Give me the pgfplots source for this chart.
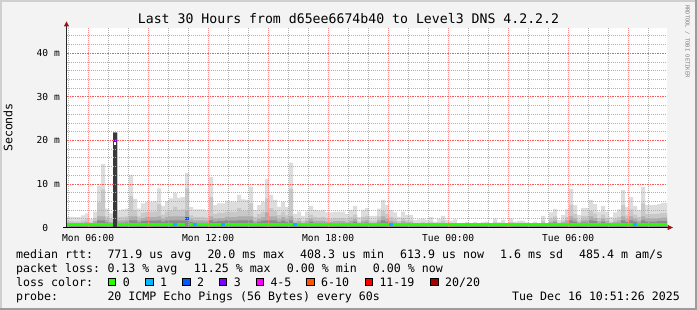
\documentclass[border=0pt]{standalone}
\usepackage{pgfplots}
\usepackage{pgfplotstable}
\pgfplotsset{compat=1.18}
\usepackage{fontspec}
\setmainfont{DejaVu Sans Mono}
\definecolor{canvas}{RGB}{243,243,243}
\definecolor{frameL}{RGB}{207,207,207}
\definecolor{frameD}{RGB}{156,156,156}
\definecolor{gridgray}{RGB}{175,175,175}
\definecolor{pinkred}{RGB}{255,140,140}
\definecolor{pinkredH}{RGB}{255,90,90}
\definecolor{arrowred}{RGB}{150,20,20}
\definecolor{smokeA}{RGB}{221,221,221}
\definecolor{smokeB}{RGB}{200,200,200}
\definecolor{smokeC}{RGB}{173,173,173}
\definecolor{smokeD}{RGB}{138,138,138}
\definecolor{colK}{RGB}{58,58,58}
\definecolor{lc0}{RGB}{38,255,0}
\definecolor{lc1}{RGB}{0,184,255}
\definecolor{lc2}{RGB}{0,89,255}
\definecolor{lc3}{RGB}{126,0,255}
\definecolor{lc4}{RGB}{255,0,255}
\definecolor{lc5}{RGB}{255,85,0}
\definecolor{lc6}{RGB}{255,0,0}
\definecolor{lc7}{RGB}{161,0,0}
\newcommand\legfont{\fontsize{11.6pt}{13pt}\selectfont}
\newcommand\ticksfont{\fontsize{9.6pt}{11pt}\selectfont}
\newcommand\titlefont{\fontsize{13.2pt}{15pt}\selectfont}
\pgfplotstableread{
h T M L D
4.84 2.5 1.5 1.0 0.9
5.04 2.5 1.5 1.0 0.9
5.24 2.4 1.4 1.0 0.9
5.44 2.4 1.4 1.0 0.9
5.64 2.8 1.7 1.1 0.9
5.84 3.3 2.0 1.3 0.9
6.04 2.0 1.2 1.0 0.9
6.24 3.7 2.2 1.5 1.0
6.44 9.6 5.8 2.6 1.7
6.64 14.6 8.8 2.6 1.7
6.84 4.4 2.6 1.8 1.2
7.04 3.3 2.0 1.3 0.9
7.24 21.8 21.8 21.8 21.8
7.44 4.0 2.4 1.6 1.1
7.64 4.2 2.5 1.7 1.1
7.84 4.4 2.6 1.8 1.2
8.04 12.1 7.3 2.6 1.7
8.24 6.6 4.0 2.6 1.7
8.44 4.4 2.6 1.8 1.2
8.64 5.6 3.4 2.2 1.5
8.84 6.0 3.6 2.4 1.6
9.04 6.0 3.6 2.4 1.6
9.24 6.1 3.7 2.4 1.6
9.44 9.0 5.4 2.6 1.7
9.64 5.0 3.0 2.0 1.4
9.84 6.1 3.7 2.4 1.6
10.04 6.7 4.0 2.6 1.7
10.24 8.0 4.8 2.6 1.7
10.44 6.9 4.1 2.6 1.7
10.64 7.0 4.2 2.6 1.7
10.84 12.6 9.0 4.0 1.7
11.04 4.7 2.8 1.9 1.3
11.24 4.2 2.5 1.7 1.1
11.44 4.2 2.5 1.7 1.1
11.64 4.2 2.5 1.7 1.1
11.84 3.9 2.3 1.6 1.1
12.04 11.6 7.0 2.6 1.7
12.24 5.2 3.1 2.1 1.4
12.44 5.6 3.4 2.2 1.5
12.64 5.6 3.4 2.2 1.5
12.84 6.2 3.7 2.5 1.7
13.04 6.0 3.6 2.4 1.6
13.24 6.0 3.6 2.4 1.6
13.44 7.5 4.5 2.6 1.7
13.64 6.5 3.9 2.6 1.7
13.84 6.4 3.8 2.6 1.7
14.04 9.4 5.6 2.6 1.7
14.24 4.1 2.5 1.6 1.1
14.44 5.2 3.1 2.1 1.4
14.64 6.0 3.6 2.4 1.6
14.84 11.2 6.7 3.5 1.7
15.04 7.5 4.5 2.6 1.7
15.24 6.4 3.8 2.6 1.7
15.44 4.8 2.9 1.9 1.3
15.64 6.0 3.6 2.4 1.6
15.84 4.7 2.8 1.9 1.3
16.04 14.9 8.9 2.6 1.7
16.24 3.1 1.9 1.2 0.9
16.44 3.7 2.2 1.5 1.0
16.64 2.7 1.6 1.1 0.9
16.84 3.7 2.2 1.5 1.0
17.04 5.0 3.0 2.0 1.4
17.24 4.1 2.5 1.6 1.1
17.44 3.9 2.3 1.6 1.1
17.64 4.1 2.5 1.6 1.1
17.84 3.5 2.1 1.4 0.9
18.04 3.5 2.1 1.4 0.9
18.24 3.7 2.2 1.5 1.0
18.44 3.7 2.2 1.5 1.0
18.64 3.7 2.2 1.5 1.0
18.84 3.1 1.9 1.2 0.9
19.04 4.1 2.5 1.6 1.1
19.24 5.0 3.0 2.0 1.4
19.44 2.4 1.4 1.0 0.9
19.64 4.1 2.5 1.6 1.1
19.84 4.5 2.7 1.8 1.2
20.04 2.7 1.6 1.1 0.9
20.24 2.7 1.6 1.1 0.9
20.44 4.4 2.6 1.8 1.2
20.64 6.4 3.8 2.6 1.7
20.84 5.2 3.1 2.1 1.4
21.04 4.1 2.5 1.6 1.1
21.24 3.5 2.1 1.4 0.9
21.44 2.5 1.5 1.0 0.9
21.64 3.7 2.2 1.5 1.0
21.84 2.9 1.7 1.2 0.9
22.04 2.9 1.7 1.2 0.9
22.24 1.8 1.1 1.0 0.9
22.44 1.9 1.1 1.0 0.9
22.64 2.1 1.3 1.0 0.9
22.84 1.8 1.1 1.0 0.9
23.04 2.4 1.4 1.0 0.9
23.24 1.4 1.1 1.0 0.9
23.44 2.0 1.2 1.0 0.9
23.64 2.7 1.6 1.1 0.9
23.84 1.8 1.1 1.0 0.9
24.04 1.6 1.1 1.0 0.9
24.24 1.9 1.1 1.0 0.9
24.44 1.0 1.0 1.0 0.9
24.64 0.9 0.9 0.9 0.9
24.84 1.3 1.1 1.0 0.9
25.04 1.0 1.0 1.0 0.9
25.24 1.3 1.1 1.0 0.9
25.44 1.0 1.0 1.0 0.9
25.64 1.2 1.1 1.0 0.9
25.84 1.4 1.1 1.0 0.9
26.04 1.0 1.0 1.0 0.9
26.24 2.1 1.3 1.0 0.9
26.44 1.2 1.1 1.0 0.9
26.64 1.8 1.1 1.0 0.9
26.84 1.0 1.0 1.0 0.9
27.04 2.1 1.3 1.0 0.9
27.24 1.4 1.1 1.0 0.9
27.44 1.6 1.1 1.0 0.9
27.64 1.6 1.1 1.0 0.9
27.84 1.2 1.1 1.0 0.9
28.04 0.9 0.9 0.9 0.9
28.24 1.4 1.1 1.0 0.9
28.44 1.0 1.0 1.0 0.9
28.64 2.7 1.6 1.1 0.9
28.84 1.0 1.0 1.0 0.9
29.04 3.5 2.1 1.4 0.9
29.24 4.3 2.6 1.7 1.2
29.44 1.8 1.1 1.0 0.9
29.64 2.9 1.7 1.2 0.9
29.84 4.2 2.5 1.7 1.1
30.04 8.9 5.3 2.6 1.7
30.24 5.2 3.1 2.1 1.4
30.44 2.9 1.7 1.2 0.9
30.64 4.5 2.7 1.8 1.2
30.84 4.5 2.7 1.8 1.2
31.04 6.4 3.8 2.6 1.7
31.24 5.4 3.2 2.2 1.5
31.44 3.7 2.2 1.5 1.0
31.64 5.0 3.0 2.0 1.4
31.84 3.7 2.2 1.5 1.0
32.04 2.4 1.4 1.0 0.9
32.24 3.5 2.1 1.4 0.9
32.44 4.2 2.5 1.7 1.1
32.64 8.6 5.2 2.6 1.7
32.84 4.7 2.8 1.9 1.3
33.04 7.0 4.2 2.6 1.7
33.24 5.0 3.0 2.0 1.4
33.44 4.1 2.5 1.6 1.1
33.64 9.3 5.6 2.6 1.7
33.84 5.2 3.1 2.1 1.4
34.04 5.2 3.1 2.1 1.4
34.24 5.2 3.1 2.1 1.4
34.44 5.4 3.2 2.2 1.5
34.64 5.7 3.4 2.3 1.5
34.84 5.7 3.4 2.3 1.5
34.94 5.7 3.4 2.3 1.5
}\smoke
\begin{document}
\begin{tikzpicture}[x=1pt,y=1pt]
% canvas and frame
\fill[canvas] (0,0) rectangle (697,310);
\fill[frameL] (0,308) rectangle (697,310);
\fill[frameL] (0,0) rectangle (2,310);
\fill[frameD] (695,0) rectangle (697,310);
\fill[frameD] (0,0) rectangle (697,2);
\begin{axis}[
  at={(67pt,82.3pt)}, anchor=south west,
  scale only axis, width=600pt, height=200pt,
  xmin=4.94, xmax=34.94, ymin=0, ymax=45.87,
  axis line style={draw=none},
  axis background/.style={fill=white},
  xtick={6,12,18,24,30},
  xticklabels={Mon 06:00,Mon 12:00,Mon 18:00,Tue 00:00,Tue 06:00},
  ytick={0,10,20,30,40},
  yticklabels={0\phantom{\ m},10 m,20 m,30 m,40 m},
  tick style={draw=none},
  xticklabel style={font=\ticksfont, anchor=base, yshift=-13.5pt, inner sep=0pt},
  yticklabel style={font=\ticksfont, anchor=east, inner sep=0pt, xshift=-7pt},
  unbounded coords=jump,
]
\addplot[const plot, fill=smokeA, draw=none] table[x=h,y=T]{\smoke} \closedcycle;
\addplot[const plot, fill=smokeB, draw=none] table[x=h,y=M]{\smoke} \closedcycle;
\addplot[const plot, fill=smokeC, draw=none] table[x=h,y=L]{\smoke} \closedcycle;
\addplot[const plot, fill=smokeD, draw=none] table[x=h,y=D]{\smoke} \closedcycle;
% fully delayed column
\addplot[const plot, fill=colK, draw=none] coordinates {(7.24,21.8) (7.44,21.8)} \closedcycle;
\addplot[fill=white, draw=none] coordinates {(7.28,19.0) (7.28,19.7) (7.40,19.7) (7.40,19.0)} -- cycle;
% vertical grid over the smoke, snapped to whole pixels
\pgfplotsinvokeforeach{5,7,8,10,11,13,14,16,17,19,20,22,23,25,26,28,29,31,32,34}{
  \draw[gridgray, dash pattern=on 1pt off 1pt, line width=1pt] (axis cs:#1.015,0.1605) -- (axis cs:#1.015,45.87);}
\pgfplotsinvokeforeach{6,9,12,15,18,21,24,27,30,33}{
  \draw[pinkred, dash pattern=on 1pt off 1pt, line width=1pt] (axis cs:#1.015,0.1605) -- (axis cs:#1.015,45.87);}
% median rtt, coloured by loss
\addplot[const plot, draw=lc0, line width=3pt] coordinates {(4.94,0.73) (7.24,0.73)};
\addplot[const plot, draw=lc0, line width=3pt] coordinates {(7.44,0.73) (10.84,0.73)};
\addplot[const plot, draw=lc0, line width=3pt] coordinates {(11.04,0.73) (34.94,0.73)};
\addplot[draw=lc1, line width=3pt] coordinates {(10.24,0.73) (10.44,0.73) (10.5,nan) (11.24,0.73) (11.44,0.73) (11.5,nan) (12.64,0.73) (12.84,0.73) (12.9,nan) (16.24,0.73) (16.44,0.73) (16.5,nan) (21.04,0.73) (21.24,0.73) (21.3,nan) (33.24,0.73) (33.44,0.73)};
\addplot[draw=lc2, line width=3pt] coordinates {(10.84,2.1) (11.04,2.1)};
\addplot[draw=lc3, line width=2pt] coordinates {(7.24,20.0) (7.44,20.0)};
\end{axis}
% horizontal grid (2 ms minor, 10 ms major)
\foreach \gy in {91.5,99.5,108.5,117.5,134.5,143.5,152.5,160.5,178.5,186.5,195.5,204.5,221.5,230.5,239.5,247.5,265.5,274.5}{
  \draw[gridgray, dash pattern=on 1pt off 1pt, line width=1pt] (67,\gy) -- (667,\gy);}
\foreach \gy in {125.5,169.5,213.5,256.5}{
  \draw[pinkredH, dash pattern=on 1.5pt off 1pt, line width=1.1pt] (67,\gy) -- (667,\gy);}
% axes lines and arrows
\draw[black!85, line width=1pt] (66.5,82.5) -- (66.5,284);
\draw[black, line width=1pt] (63,82.5) -- (668,82.5);
\fill[arrowred] (63.8,283.5) -- (69.2,283.5) -- (66.5,288.5) -- cycle;
\fill[arrowred] (667.5,79.8) -- (667.5,85.2) -- (673,82.5) -- cycle;
% title and labels
\node[anchor=base, inner sep=0pt, font=\titlefont] at (348.5,286) {Last 30 Hours from d65ee6674b40 to Level3 DNS 4.2.2.2};
\node[anchor=base, rotate=90, inner sep=0pt, font=\legfont] at (12.3,182.5) {Seconds};
\node[anchor=center, rotate=-90, inner sep=0pt, text=black!50, font=\fontsize{5.5pt}{6pt}\selectfont] at (687.5,268.5) {RRDTOOL / TOBI OETIKER};
% legend
\begin{scope}[every node/.style={anchor=base west, inner sep=0pt, font=\legfont}]
\node at (16,51.7) {median rtt:};
\node at (107.3,51.7) {771.9 us avg};
\node at (207.3,51.7) {20.0 ms max};
\node at (300,51.7) {408.3 us min};
\node at (400,51.7) {613.9 us now};
\node at (500,51.7) {1.6 ms sd};
\node at (579,51.7) {485.4 m am/s};
\node at (16,37.7) {packet loss:};
\node at (107.3,37.7) {0.13 \% avg};
\node at (193.7,37.7) {11.25 \% max};
\node at (286.7,37.7) {0.00 \% min};
\node at (372.7,37.7) {0.00 \% now};
\node at (16,23.7) {loss color:};
\node at (122.6,23.7) {0};
\node at (160,23.7) {1};
\node at (197,23.7) {2};
\node at (233.6,23.7) {3};
\node at (270.3,23.7) {4-5};
\node at (321,23.7) {6-10};
\node at (379.3,23.7) {11-19};
\node at (445,23.7) {20/20};
\node at (16,9.7) {probe:};
\node at (107.3,9.7) {20 ICMP Echo Pings (56 Bytes) every 60s};
\end{scope}
\node[anchor=base east, inner sep=0pt, font=\legfont] at (680,9.7) {Tue Dec 16 10:51:26 2025};
\foreach \bx/\c in {108.3/lc0,145.7/lc1,182.7/lc2,219.3/lc3,256/lc4,306.7/lc5,365/lc6,430.7/lc7}{
  \draw[fill=\c, draw=black, line width=0.8pt] (\bx,24.3) rectangle ++(7.3,7.3);
}
\end{tikzpicture}
\end{document}
